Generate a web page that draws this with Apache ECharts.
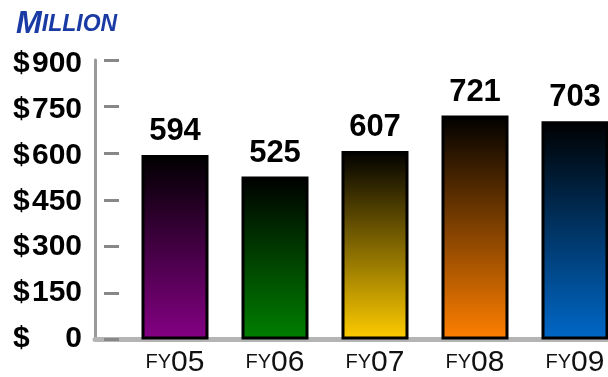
<!DOCTYPE html>
<html>
<head>
<meta charset="utf-8">
<script src="https://cdn.jsdelivr.net/npm/echarts@6/dist/echarts.min.js"></script>
<style>
  html, body { margin: 0; padding: 0; background: #fff; }
  #chart { width: 608px; height: 377px; }
</style>
</head>
<body>
<div id="chart"></div>
<script>
// Fiscal years and revenue in millions of dollars
const fiscalYears = ['05', '06', '07', '08', '09'];
const revenue = [594, 525, 607, 721, 703];
// Value axis ticks
const axisMin = 0;
const axisMax = 900;
const axisStep = 150;
// Bottom colour of each bar's gradient (each fades to black at the top)
const barBaseColors = ['#840084', '#008000', '#ffcc00', '#ff8000', '#0068c8'];

const FONT = '"Liberation Sans", Arial, Helvetica, sans-serif';

function fade(color) {
  return new echarts.graphic.LinearGradient(0, 0, 0, 1, [
    { offset: 0, color: '#000000' },
    { offset: 1, color: color }
  ]);
}

const chart = echarts.init(document.getElementById('chart'), null, { renderer: 'canvas' });

chart.setOption({
  backgroundColor: '#ffffff',
  animation: false,
  title: {
    text: '{a|M}{b|ILLION}',
    left: 11,
    top: 4,
    textStyle: {
      rich: {
        a: { fontFamily: FONT, fontSize: 31, fontWeight: 'bold', fontStyle: 'italic', color: '#1a3aa4' },
        b: { fontFamily: FONT, fontSize: 23, fontWeight: 'bold', fontStyle: 'italic', color: '#1a3aa4' }
      }
    }
  },
  grid: [
    // bars
    { left: 125, top: 60, width: 500, bottom: 37.5, outerBoundsMode: 'none' },
    // frame: vertical axis line and the long baseline
    { left: 95, top: 60, right: 0, bottom: 37.5, outerBoundsMode: 'none' },
    // dollar labels
    { left: 95, top: 64, right: 0, bottom: 38.5, outerBoundsMode: 'none' }
  ],
  xAxis: [
    {
      type: 'category',
      gridIndex: 0,
      data: fiscalYears,
      axisLine: { show: false },
      axisTick: { show: false },
      axisLabel: {
        margin: 8,
        formatter: (v) => '{s|FY}{n|' + v + '}',
        rich: {
          s: { fontFamily: FONT, fontSize: 20, color: '#111' },
          n: { fontFamily: FONT, fontSize: 30, color: '#111' }
        }
      }
    },
    {
      type: 'value',
      gridIndex: 1,
      min: 0,
      max: 1,
      axisLine: { show: true, lineStyle: { color: '#b4b4b4', width: 5 } },
      axisTick: { show: false },
      axisLabel: { show: false },
      splitLine: { show: false }
    },
    {
      type: 'value',
      gridIndex: 2,
      min: 0,
      max: 1,
      show: false
    }
  ],
  yAxis: [
    {
      type: 'value',
      gridIndex: 1,
      min: axisMin,
      max: axisMax,
      interval: axisStep,
      axisLine: { show: true, lineStyle: { color: '#999999', width: 3 } },
      axisTick: { show: false },
      axisLabel: { show: false },
      splitLine: { show: false }
    },
    {
      // detached tick marks beside the axis line
      type: 'value',
      gridIndex: 0,
      min: axisMin,
      max: axisMax,
      interval: axisStep,
      offset: 6,
      axisLine: { show: false },
      axisTick: { show: true, length: 15, lineStyle: { color: '#888888', width: 3 } },
      axisLabel: { show: false },
      splitLine: { show: false }
    },
    {
      type: 'value',
      gridIndex: 2,
      min: axisMin,
      max: axisMax,
      interval: axisStep,
      axisLine: { show: false },
      axisTick: { show: false },
      splitLine: { show: false },
      axisLabel: {
        margin: 13,
        formatter: (v) => '{d|$}{v|' + v + '}',
        rich: {
          d: { fontFamily: FONT, fontSize: 30, fontWeight: 'bold', color: '#000', width: 17, align: 'left' },
          v: { fontFamily: FONT, fontSize: 30, fontWeight: 'bold', color: '#000', width: 52, align: 'right' }
        }
      }
    }
  ],
  series: [
    {
      type: 'bar',
      xAxisIndex: 0,
      yAxisIndex: 1,
      barWidth: 67,
      data: revenue.map((v, i) => ({
        value: v,
        itemStyle: { color: fade(barBaseColors[i]) }
      })),
      itemStyle: { borderColor: '#000', borderWidth: 3 },
      label: {
        show: true,
        position: 'top',
        distance: 8,
        fontFamily: FONT,
        fontSize: 31,
        fontWeight: 'bold',
        color: '#000'
      },
      z: 1
    }
  ]
});
</script>
</body>
</html>
